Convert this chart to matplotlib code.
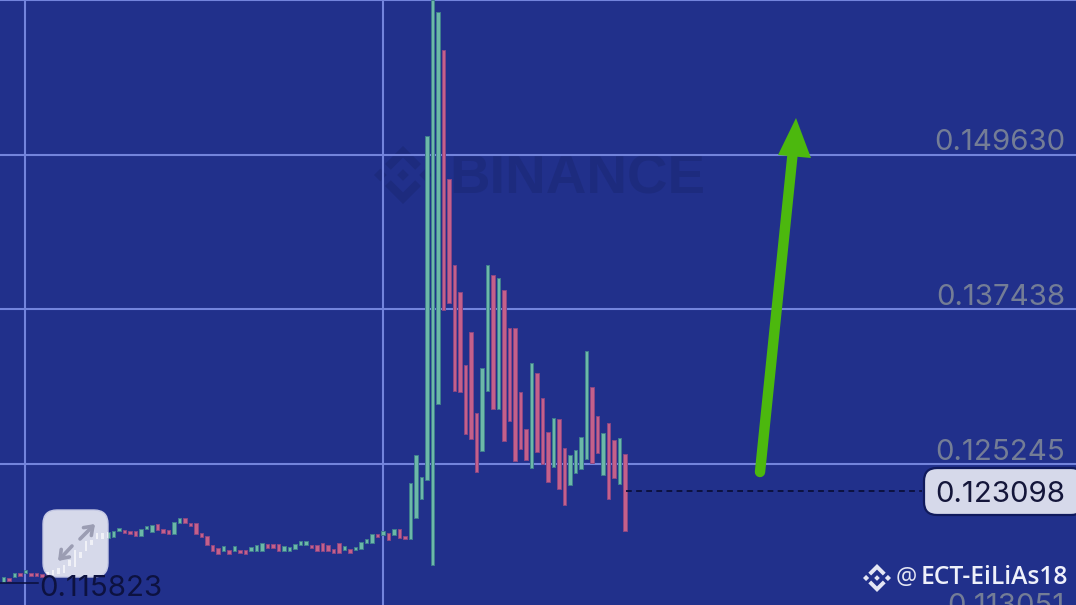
"""Recreate the Binance candlestick screenshot with the green arrow."""

import matplotlib

matplotlib.use("Agg")
import matplotlib.pyplot as plt
import matplotlib.transforms as mtransforms
from matplotlib.patches import FancyBboxPatch, Polygon

# body top / bottom of each candle, left to right
bar_top = [
    0.11633, 0.11625, 0.11664, 0.11664, 0.11688, 0.11664, 0.11664, 0.11657, 0.11672, 0.11688,
    0.11704, 0.11728, 0.11767, 0.11846, 0.11830, 0.11917, 0.11925, 0.11980, 0.11980, 0.11988,
    0.11996, 0.12020, 0.12004, 0.11996, 0.11996, 0.12012, 0.12035, 0.12043, 0.12051, 0.12012,
    0.12004, 0.12067, 0.12098, 0.12098, 0.12059, 0.12059, 0.11980, 0.11956, 0.11885, 0.11862,
    0.11878, 0.11846, 0.11878, 0.11846, 0.11846, 0.11870, 0.11885, 0.11901, 0.11893, 0.11893,
    0.11893, 0.11878, 0.11870, 0.11893, 0.11917, 0.11917, 0.11885, 0.11885, 0.11901, 0.11885,
    0.11854, 0.11901, 0.11878, 0.11854, 0.11870, 0.11909, 0.11933, 0.11972, 0.11972, 0.11996,
    0.11980, 0.12012, 0.12012, 0.11956, 0.12375, 0.12596, 0.12422, 0.15112, 0.16186, 0.16091,
    0.15791, 0.14773, 0.14095, 0.13882, 0.13306, 0.13566, 0.12927, 0.13282, 0.14095, 0.14016,
    0.13992, 0.13897, 0.13598, 0.13598, 0.13093, 0.12801, 0.13321, 0.13242, 0.13045, 0.12777,
    0.12887, 0.12880, 0.12651, 0.12596, 0.12635, 0.12738, 0.13416, 0.13132, 0.12903, 0.12769,
    0.12848, 0.12714, 0.12730, 0.12603,
]
bar_bottom = [
    0.11593, 0.11601, 0.11633, 0.11641, 0.11664, 0.11641, 0.11641, 0.11633, 0.11649, 0.11649,
    0.11657, 0.11664, 0.11720, 0.11712, 0.11783, 0.11838, 0.11885, 0.11933, 0.11933, 0.11941,
    0.11949, 0.11996, 0.11980, 0.11972, 0.11956, 0.11956, 0.12012, 0.11988, 0.12004, 0.11980,
    0.11972, 0.11972, 0.12059, 0.12059, 0.12035, 0.11972, 0.11949, 0.11885, 0.11838, 0.11814,
    0.11838, 0.11814, 0.11838, 0.11822, 0.11814, 0.11838, 0.11838, 0.11838, 0.11862, 0.11862,
    0.11838, 0.11838, 0.11838, 0.11854, 0.11885, 0.11885, 0.11862, 0.11838, 0.11838, 0.11838,
    0.11822, 0.11822, 0.11846, 0.11822, 0.11846, 0.11854, 0.11901, 0.11901, 0.11949, 0.11964,
    0.11925, 0.11964, 0.11941, 0.11933, 0.11933, 0.12098, 0.12248, 0.12398, 0.11728, 0.12998,
    0.13740, 0.13795, 0.13100, 0.13093, 0.12761, 0.12722, 0.12461, 0.12627, 0.13100, 0.12958,
    0.12958, 0.12706, 0.12864, 0.12548, 0.12643, 0.12556, 0.12493, 0.12619, 0.12524, 0.12382,
    0.12501, 0.12327, 0.12201, 0.12359, 0.12453, 0.12485, 0.12564, 0.12532, 0.12611, 0.12438,
    0.12248, 0.12414, 0.12367, 0.11996,
]
# 1 = up (green), 0 = down (red)
bar_up = [
    1, 0, 1, 0, 1, 0, 0, 0, 0, 0, 1, 1, 0, 1, 0, 1, 0, 1, 0, 1,
    1, 1, 0, 0, 0, 1, 1, 1, 0, 0, 0, 1, 1, 0, 0, 0, 0, 0, 0, 0,
    1, 0, 1, 0, 0, 1, 1, 1, 0, 0, 0, 1, 1, 1, 1, 1, 0, 0, 0, 0,
    0, 0, 1, 0, 1, 1, 1, 1, 0, 1, 0, 1, 0, 0, 1, 1, 1, 1, 1, 1,
    0, 0, 0, 0, 0, 0, 0, 1, 1, 0, 1, 0, 0, 0, 0, 0, 1, 0, 0, 0,
    1, 0, 0, 1, 1, 1, 1, 0, 0, 1, 0, 0, 1, 0,
]

grid_prices = [0.161822, 0.149630, 0.137438, 0.125245]
grid_candles = [3.9, 69]
tick_prices = [0.149630, 0.137438, 0.125245, 0.113051]
last_price = 0.123098
marker_price = 0.115823

BG = "#21308b"
GRID = "#7384dc"
UP, UP_EDGE = "#6cb8a8", "#3f7f8e"
DOWN, DOWN_EDGE = "#c4608a", "#8a4684"
PANEL = "#d6d9ea"
NUM_SIZE = 21.2
WIDTH, HEIGHT = 1076, 605

fig = plt.figure(figsize=(WIDTH / 100, HEIGHT / 100), dpi=100, facecolor=BG)
ax = fig.add_axes([0, 0, 1, 1], facecolor=BG)
ax.set_xlim(-0.636, 195)
ax.set_ylim(0.11412, 0.16186)
ax.axis("off")

# screen pixel coordinates, y going down, for the decorations
px = mtransforms.Affine2D().scale(1, -1).translate(0, HEIGHT)


def draw_logo(cx, cy, r, color, zorder=2):
    """Binance mark: centre and side diamonds plus top and bottom chevrons."""
    shapes = [
        [(0, -0.2), (0.2, 0), (0, 0.2), (-0.2, 0)],
        [(-1, 0), (-0.78, -0.22), (-0.56, 0), (-0.78, 0.22)],
        [(1, 0), (0.78, -0.22), (0.56, 0), (0.78, 0.22)],
        [(0, -1), (0.62, -0.38), (0.42, -0.18), (0, -0.6), (-0.42, -0.18), (-0.62, -0.38)],
        [(0, 1), (0.62, 0.38), (0.42, 0.18), (0, 0.6), (-0.42, 0.18), (-0.62, 0.38)],
    ]
    for shape in shapes:
        pts = [(cx + r * a, cy + r * b) for a, b in shape]
        ax.add_patch(Polygon(pts, closed=True, facecolor=color, edgecolor="none",
                             transform=px, zorder=zorder))


# watermark sits under everything
draw_logo(403, 175, 29, "#1d2b7e", zorder=1)
ax.text(449, 179, "BINANCE", transform=px, fontsize=40.5, fontweight="bold",
        family="Liberation Sans", color="#1d2b7e", va="center", ha="left", zorder=1)

for price in grid_prices:
    ax.axhline(price, color=GRID, lw=1.5, zorder=2)
for pos in grid_candles:
    ax.axvline(pos, color=GRID, lw=1.5, zorder=2)

xs = range(len(bar_top))
heights = [t - b for t, b in zip(bar_top, bar_bottom)]
fills = [UP if u else DOWN for u in bar_up]
edges = [UP_EDGE if u else DOWN_EDGE for u in bar_up]
ax.bar(xs, heights, bottom=bar_bottom, width=0.68, color=fills, edgecolor=edges,
       linewidth=0.7, zorder=3)

# price axis labels float above their grid line
for price in tick_prices:
    ax.annotate(f"{price:.6f}", (1065, price), xycoords=("figure pixels", "data"),
                xytext=(0, 12), textcoords="offset pixels", ha="right", va="center",
                fontsize=NUM_SIZE, family="Inter", color="#747d96", zorder=4)

# current price line and box
ax.plot([113.2, 167], [last_price, last_price], color="#0a0f3a", lw=1.3,
        ls=(0, (3.2, 2.4)), zorder=4)
ax.add_patch(FancyBboxPatch((924, 468), 160, 47, boxstyle="round,pad=0,rounding_size=13",
                            facecolor=PANEL, edgecolor="#101a5c", lw=1.6,
                            transform=px, zorder=5))
ax.annotate(f"{last_price:.6f}", (1065, last_price), xycoords=("figure pixels", "data"),
            xytext=(0, -3), textcoords="offset pixels", ha="right", va="center",
            fontsize=NUM_SIZE, family="Inter", color="#14163a", zorder=6)

# green arrow
ax.plot([760, 793], [472, 150], color="#4cb80e", lw=7.5, solid_capstyle="round",
        transform=px, zorder=6)
ax.add_patch(Polygon([(796, 118), (811, 158), (778, 155)], closed=True, facecolor="#4cb80e",
                     edgecolor="none", transform=px, zorder=6))

# marker on the left
ax.plot([-0.636, 6.3], [marker_price, marker_price], color="#0a0f3a", lw=1.1, zorder=6)
ax.annotate(f"{marker_price:.6f}", (39, marker_price), xycoords=("figure pixels", "data"),
            xytext=(0, -5), textcoords="offset pixels", ha="left", va="center",
            fontsize=NUM_SIZE, family="Inter", color="#0d1240", zorder=8)

# expand button, candles show through it as pale specks
button = FancyBboxPatch((43, 510), 65, 67, boxstyle="round,pad=0,rounding_size=14",
                        facecolor=PANEL, edgecolor="#c4c8e4", lw=1, transform=px, zorder=7)
ax.add_patch(button)
specks = ax.bar(xs, heights, bottom=bar_bottom, width=0.45, color="white", alpha=0.65,
                linewidth=0, zorder=7.5)
for rect in specks:
    rect.set_clip_path(button)

ICON = "#9b9db3"
for start, end in [((72, 546), (58, 561)), ((80, 539), (95, 524))]:
    ax.annotate("", xy=end, xytext=start, xycoords=px, textcoords=px, zorder=8,
                arrowprops=dict(arrowstyle="->,head_length=0.55,head_width=0.4", color=ICON,
                                lw=2.6, shrinkA=0, shrinkB=0))

# author tag
draw_logo(877, 578, 14, "#e4e6f4", zorder=8)
ax.text(896, 578, "@", transform=px, fontsize=17, family="Open Sans", color="#e4e6f4",
        va="center", ha="left", zorder=8)
ax.text(921, 578, "ECT-EiLiAs18", transform=px, fontsize=17.7, family="Open Sans",
        fontweight="semibold", color="#eef0fa", va="center", ha="left", zorder=8)

fig.savefig("out.png", dpi=100, facecolor=BG)
